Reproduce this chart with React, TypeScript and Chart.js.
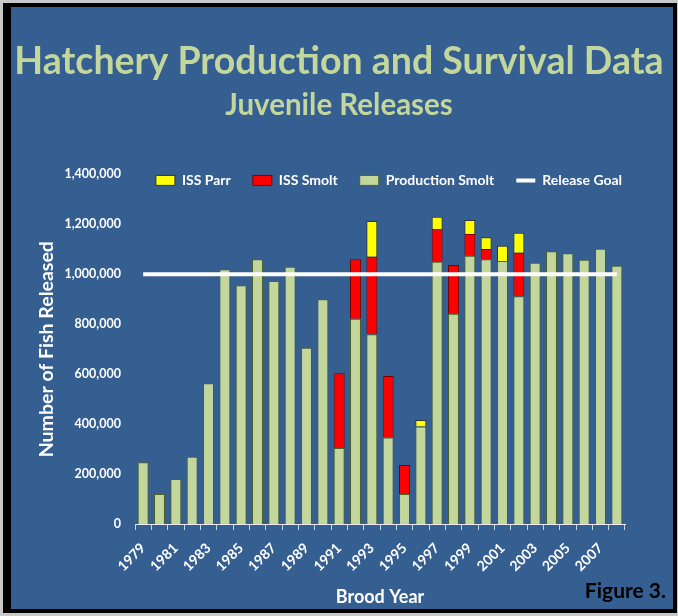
import React, { useEffect, useRef } from 'react';
import { Chart, registerables } from 'chart.js';

Chart.register(...registerables);

const years = [
  '1979', '1980', '1981', '1982', '1983', '1984', '1985', '1986', '1987', '1988',
  '1989', '1990', '1991', '1992', '1993', '1994', '1995', '1996', '1997', '1998',
  '1999', '2000', '2001', '2002', '2003', '2004', '2005', '2006', '2007', '2008',
];

const productionSmolt = [
  247000, 120000, 180000, 269000, 564000, 1020000, 956000, 1060000, 973000, 1030000,
  706000, 900000, 304000, 822000, 760000, 346000, 120000, 390000, 1050000, 842000,
  1074000, 1060000, 1053000, 912000, 1046000, 1092000, 1084000, 1058000, 1102000, 1034000,
];

const issSmolt = [
  null, null, null, null, null, null, null, null, null, null,
  null, null, 300000, 238000, 310000, 247000, 116000, null, 130000, 195000,
  87000, 41000, null, 174000, null, null, null, null, null, null,
];

const issParr = [
  null, null, null, null, null, null, null, null, null, null,
  null, null, null, null, 143000, null, null, 26000, 50000, null,
  56000, 47000, 61000, 80000, null, null, null, null, null, null,
];

const releaseGoal = [
  1000000, 1000000, 1000000, 1000000, 1000000, 1000000, 1000000, 1000000, 1000000, 1000000,
  1000000, 1000000, 1000000, 1000000, 1000000, 1000000, 1000000, 1000000, 1000000, 1000000,
  1000000, 1000000, 1000000, 1000000, 1000000, 1000000, 1000000, 1000000, 1000000, 1000000,
];

const yTickValues = [0, 200000, 400000, 600000, 800000, 1000000, 1200000, 1400000];

const FONT = 'Lato';
const legendRank = [2, 1, 0, 3];

const legendShift = {
  id: 'legendShift',
  afterLayout(chart: any) {
    const l = chart.legend;
    if (l) {
      l.top += 23;
      l.bottom += 23;
      l.left += 50;
      l.right += 50;
    }
  },
};

const figureLabel = {
  id: 'figureLabel',
  afterDraw(chart: any) {
    const ctx = chart.ctx;
    ctx.save();
    ctx.font = `bold 21px ${FONT}`;
    ctx.fillStyle = '#000000';
    ctx.textAlign = 'right';
    ctx.textBaseline = 'alphabetic';
    ctx.fillText('Figure 3.', 666, 598);
    ctx.restore();
  },
};

export default function App() {
  const ref = useRef<HTMLCanvasElement | null>(null);

  useEffect(() => {
    document.body.style.margin = '0';
    const canvas = ref.current;
    if (!canvas) return;
    const chart = new Chart(canvas, {
      type: 'bar',
      data: {
        labels: years,
        datasets: [
          {
            label: 'Production Smolt',
            data: productionSmolt,
            backgroundColor: '#C3D69B',
            borderColor: '#4F6228',
            borderWidth: 1,
            stack: 'releases',
            categoryPercentage: 1,
            barPercentage: 0.67,
          },
          {
            label: 'ISS Smolt',
            data: issSmolt,
            backgroundColor: '#FF0000',
            borderColor: '#7A0000',
            borderWidth: 1,
            stack: 'releases',
            categoryPercentage: 1,
            barPercentage: 0.67,
          },
          {
            label: 'ISS Parr',
            data: issParr,
            backgroundColor: '#FFFF00',
            borderColor: '#333333',
            borderWidth: 1,
            stack: 'releases',
            categoryPercentage: 1,
            barPercentage: 0.67,
          },
          {
            type: 'line',
            label: 'Release Goal',
            data: releaseGoal,
            borderColor: '#FFFFFF',
            backgroundColor: '#FFFFFF',
            borderWidth: 4,
            pointRadius: 0,
            fill: false,
            stack: 'goal',
            order: -1,
          } as any,
        ],
      },
      options: {
        responsive: false,
        animation: false,
        devicePixelRatio: 1,
        layout: { padding: { top: 7, left: 11, right: 11, bottom: 8 } },
        plugins: {
          tooltip: { enabled: false },
          title: {
            display: true,
            text: 'Hatchery Production and Survival Data',
            color: '#C3D69B',
            font: { family: FONT, size: 37.5, weight: 'bold' },
            padding: { top: 32, bottom: 0 },
          },
          subtitle: {
            display: true,
            text: 'Juvenile Releases',
            color: '#C3D69B',
            font: { family: FONT, size: 29.5, weight: 'bold' },
            padding: { top: 4, bottom: 5 },
          },
          legend: {
            display: true,
            position: 'top',
            fullSize: true,
            labels: {
              color: '#FFFFFF',
              font: { family: FONT, size: 14, weight: 'bold' },
              usePointStyle: true,
              pointStyleWidth: 19,
              boxHeight: 10,
              padding: 22,
              sort: (a: any, b: any) => legendRank[a.datasetIndex] - legendRank[b.datasetIndex],
              generateLabels: (c: any) => {
                const items = Chart.defaults.plugins.legend.labels.generateLabels(c);
                items.forEach((it: any) => {
                  if (it.datasetIndex === 3) {
                    it.pointStyle = 'line';
                    it.lineWidth = 4;
                    it.strokeStyle = '#FFFFFF';
                  } else {
                    it.pointStyle = 'rect';
                    it.lineWidth = 1;
                  }
                });
                return items;
              },
            },
          },
        },
        scales: {
          x: {
            stacked: true,
            offset: true,
            grid: {
              display: true,
              drawOnChartArea: false,
              drawTicks: true,
              tickLength: 6,
              color: '#C9D3E0',
              offset: true,
            },
            border: { display: true, color: '#E6ECF2', width: 1 },
            ticks: {
              color: '#FFFFFF',
              font: { family: FONT, size: 14, weight: 'bold' },
              autoSkip: false,
              maxRotation: 45,
              minRotation: 45,
              padding: 10,
              callback: (_v: any, i: number) => (i % 2 === 0 ? years[i] : ''),
            },
            title: {
              display: true,
              text: 'Brood Year',
              color: '#FFFFFF',
              font: { family: FONT, size: 18, weight: 'bold' },
              padding: { top: 0, bottom: 0 },
            },
            afterFit: (s: any) => {
              s.height = 84;
            },
          },
          y: {
            stacked: true,
            min: 0,
            max: 1400000,
            grid: { display: false, drawTicks: false },
            border: { display: false },
            ticks: {
              color: '#FFFFFF',
              font: { family: FONT, size: 12.5, weight: 'bold' },
              padding: 14,
              callback: (v: any) => Number(v).toLocaleString('en-US'),
            },
            afterBuildTicks: (s: any) => {
              s.ticks = yTickValues.map((v) => ({ value: v }));
            },
            title: {
              display: true,
              text: 'Number of Fish Released',
              color: '#FFFFFF',
              font: { family: FONT, size: 19.5, weight: 'bold' },
              padding: { top: 24, bottom: 0 },
            },
            afterFit: (s: any) => {
              s.width = 124;
            },
          },
          y2: {
            position: 'right',
            display: true,
            grid: { display: false, drawTicks: false },
            border: { display: false },
            ticks: { display: false },
            afterFit: (s: any) => {
              s.width = 42;
            },
          },
        },
      } as any,
      plugins: [legendShift, figureLabel],
    });
    return () => chart.destroy();
  }, []);

  return (
    <div style={{ position: 'fixed', left: 0, top: 0, width: 678, height: 616, background: '#C8C8C8' }}>
      <div style={{ position: 'absolute', left: 3, top: 3, width: 674, height: 610, background: '#000000' }} />
      <div style={{ position: 'absolute', left: 11, top: 7, width: 662, height: 602, background: '#365F91' }} />
      <canvas ref={ref} width={678} height={616} style={{ position: 'absolute', left: 0, top: 0, width: 678, height: 616 }} />
    </div>
  );
}
